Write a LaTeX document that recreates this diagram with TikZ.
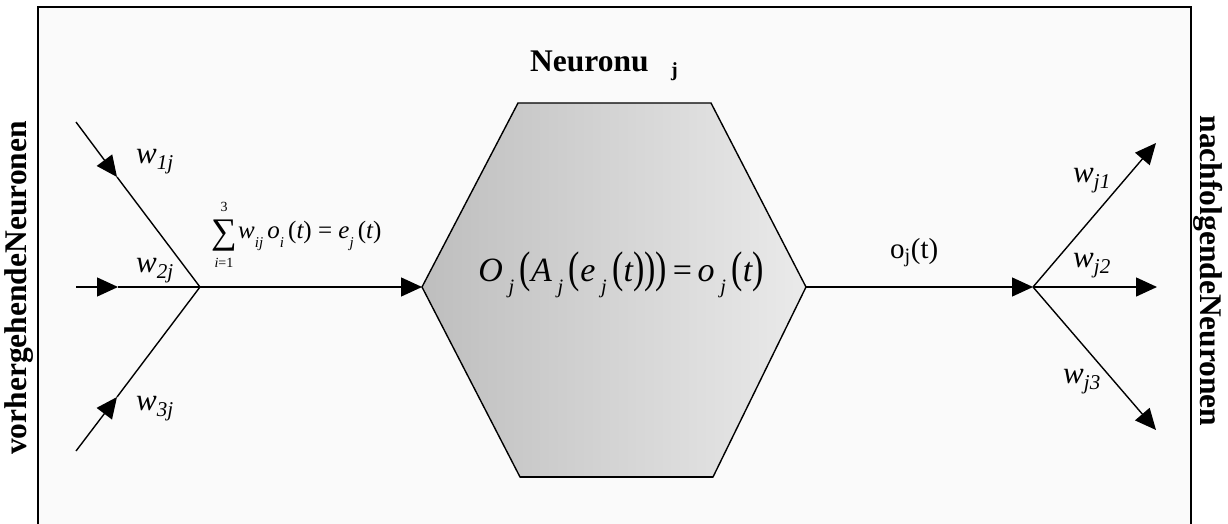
\documentclass[tikz,border=0pt]{standalone}
\usepackage{fontspec}
\setmainfont{Liberation Serif}
\usepackage{graphicx}
\usetikzlibrary{arrows.meta}
\definecolor{bgc}{HTML}{FAFAFA}
\definecolor{hexl}{HTML}{BEBEBE}
\definecolor{hexr}{HTML}{EAEAEA}
\newcommand\lowsub[1]{\raisebox{-0.36em}{\scalebox{0.6}{#1}}}
\newcommand\wsub[1]{\raisebox{-0.2em}{\scalebox{0.68}{#1}}}
\newcommand\bp[1]{\raisebox{-0.03em}{\scalebox{1}[1.3]{\upshape #1}}}
\begin{document}
\begin{tikzpicture}[x=1pt,y=-1pt,
  conn/.style={line width=1.4pt},
  arr/.style={conn,-{Triangle[length=21pt,width=19pt]}},
  lbl/.style={inner sep=0pt, anchor=base west},
  side/.style={inner sep=0pt, font=\bfseries\fontsize{31.5}{32}\selectfont},
  wlab/.style={lbl, font=\itshape\fontsize{31}{31}\selectfont},
]
\useasboundingbox (0,0) rectangle (1228,524);
\fill[bgc] (38,7) rectangle (1191,524);
\draw[line width=1.6pt] (38,524) -- (38,7) -- (1191,7) -- (1191,524);

% side labels
\node[side, rotate=90] (lt) at (19,288) {vorhergehendeNeuronen};
\node[side, rotate=-90] (rt) at (1208,271) {nachfolgendeNeuronen};

% hexagon
\coordinate (hL) at (422,287);
\coordinate (hTL) at (518,103);
\coordinate (hTR) at (711,103);
\coordinate (hR) at (806,287);
\coordinate (hBR) at (713,477);
\coordinate (hBL) at (520,477);
\shade[left color=hexl, right color=hexr] (hL) -- (hTL) -- (hTR) -- (hR) -- (hBR) -- (hBL) -- cycle;
\draw[line width=1.4pt, line join=miter] (hL) -- (hTL) -- (hTR) -- (hR) -- (hBR) -- (hBL) -- cycle;
\draw[line width=2pt] (hBL) -- (hBR);

\node[lbl, font=\bfseries\fontsize{31.5}{32}\selectfont] (nt) at (530,72) {Neuronu};
\node[lbl, font=\bfseries\fontsize{20}{20}\selectfont] (nj) at (671,77) {j};

\node[inner sep=0pt, anchor=base, font=\itshape\fontsize{34}{34}\selectfont] (f) at (621,281)
  {O\,\lowsub{j}\,\bp{(}A\,\lowsub{j}\,\bp{(}e\,\lowsub{j}\,\bp{(}t\bp{)}\bp{)}\bp{)}\,{\upshape=}\,o\,\lowsub{j}\,\bp{(}t\bp{)}};

% input side
\coordinate (a1) at (76,122);
\coordinate (a2) at (76,287);
\coordinate (a3) at (76,451);
\coordinate (m1) at (117,177);
\coordinate (m2) at (118,287);
\coordinate (m3) at (117,397);
\coordinate (J) at (200,287);
\draw[arr] (a1) -- (m1);
\draw[conn] (m1) -- (J);
\draw[arr] (a2) -- (m2);
\draw[conn] (m2) -- (J);
\draw[arr] (a3) -- (m3);
\draw[conn] (m3) -- (J);
\draw[arr] (J) -- (hL);

\node[wlab] (w1) at (136,163) {w\wsub{1j}};
\node[wlab] (w2) at (136,272) {w\wsub{2j}};
\node[wlab] (w3) at (136,410) {w\wsub{3j}};

% sum formula
\node[inner sep=0pt, anchor=base, text height=24pt, text depth=2pt, font=\fontsize{36}{36}\selectfont] (sig) at (224,243) {∑};
\node[inner sep=0pt, anchor=base, font=\fontsize{14}{14}\selectfont] (s3) at (224,211) {3};
\node[inner sep=0pt, anchor=base, font=\fontsize{14}{14}\selectfont] (s1) at (224,267) {\textit{i}=1};
\node[lbl, font=\itshape\fontsize{25}{25}\selectfont] (sr) at (238,238)
  {w\lowsub{ij}\,o\lowsub{i}\,{\upshape(}t{\upshape)} {\upshape =} e\lowsub{j}\,{\upshape(}t{\upshape)}};

% output side
\coordinate (K) at (1033,287);
\coordinate (b1) at (1156,143);
\coordinate (b2) at (1157,287);
\coordinate (b3) at (1156,430);
\draw[arr] (hR) -- (K);
\draw[arr] (K) -- (b1);
\draw[arr] (K) -- (b2);
\draw[arr] (K) -- (b3);

\node[lbl, font=\fontsize{29}{29}\selectfont] (oj) at (890,258) {o\textsubscript{j}(t)};
\node[wlab] (v1) at (1073,182) {w\wsub{j1}};
\node[wlab] (v2) at (1073,267) {w\wsub{j2}};
\node[wlab] (v3) at (1063,383) {w\wsub{j3}};
\end{tikzpicture}
\end{document}
